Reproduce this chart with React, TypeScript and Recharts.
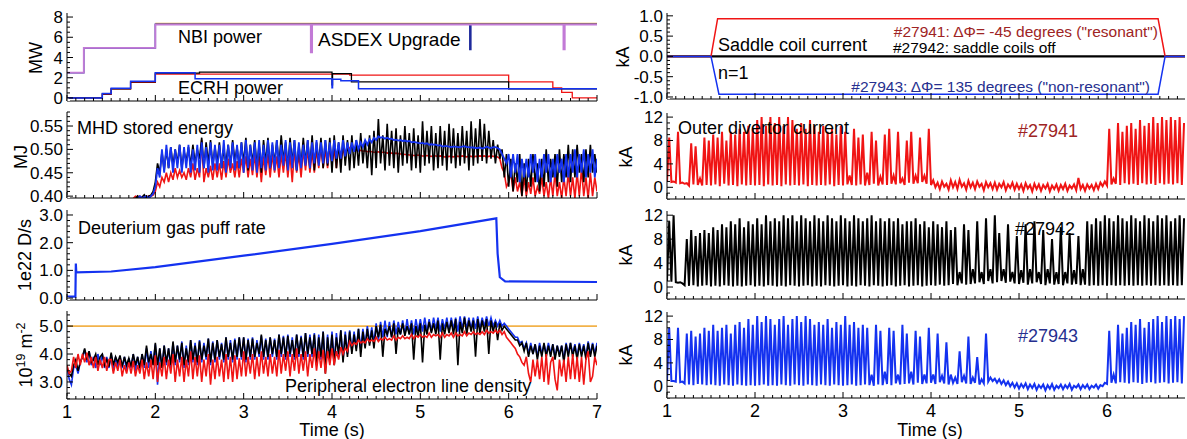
import React from 'react';
import { LineChart, Line, XAxis, YAxis, ReferenceLine } from 'recharts';

const FONT = '"Liberation Sans", Arial, Helvetica, sans-serif';
const RED = '#f01414';
const BLUE = '#1432f0';
const BLACK = '#000000';
const PURPLE = '#c27ad6';
const ORANGE = '#f2b24a';
const NAVYLINE = '#1e2a9c';
const DARKRED = '#9e2424';
const TEXTNAVY = '#262f8f';

// ---------- Panel 1: heating power (MW), step traces ----------
const nbiT = [1.0, 1.19, 2.0, 3.76, 3.775, 6.62, 6.635, 7.0];
const nbiV = [2.5, 4.95, 7.25, 4.5, 7.25, 4.8, 7.25, 7.25];
const nbiBlueT = [1.0, 1.19, 2.0, 5.56, 5.572, 7.0];
const nbiBlueV = [2.5, 4.95, 7.3, 4.8, 7.3, 7.3];
const nbiOrangeT = [2.0, 7.0];
const nbiOrangeV = [7.35, 7.35];
const ecrhRedT = [1.0, 1.4, 1.5, 1.72, 2.0, 4.2, 6.0, 6.5, 6.6, 6.72, 7.0];
const ecrhRedV = [0, 0.35, 0.9, 1.55, 2.35, 2.25, 1.6, 1.0, 0.55, 0, 0];
const ecrhBlackT = [1.0, 1.4, 1.5, 1.72, 2.0, 2.5, 4.0, 4.006, 4.22, 6.0, 7.0];
const ecrhBlackV = [0, 0.4, 0.9, 1.6, 2.45, 2.55, 1.3, 2.4, 1.6, 0.9, 0.9];
const ecrhBlueT = [1.0, 1.4, 1.5, 1.72, 2.0, 2.45, 4.0, 4.006, 4.1, 4.3, 7.0];
const ecrhBlueV = [0, 0.45, 0.95, 1.65, 2.5, 1.9, 1.0, 1.85, 1.7, 0.9, 0.9];

// ---------- Panel 2: MHD stored energy (MJ), t = 1.700 .. 7.000 step 0.025 ----------
const MHD_T0 = 1.7;
const MHD_DT = 0.025;
const mhdBlack = [
  0.385, 0.39, 0.388, 0.395, 0.40, 0.392, 0.398, 0.403, 0.395, 0.40, 0.402, 0.41, 0.43, 0.47, 0.45, 0.495, 0.455, 0.50, 0.46, 0.505,
  0.465, 0.50, 0.47, 0.51, 0.46, 0.495, 0.475, 0.505, 0.465, 0.51, 0.47, 0.50, 0.48, 0.525, 0.46, 0.515, 0.47, 0.52, 0.465, 0.505,
  0.47, 0.515, 0.46, 0.50, 0.47, 0.51, 0.465, 0.52, 0.475, 0.505, 0.46, 0.515, 0.47, 0.525, 0.455, 0.51, 0.47, 0.52, 0.465, 0.51,
  0.45, 0.52, 0.47, 0.525, 0.46, 0.51, 0.47, 0.52, 0.465, 0.53, 0.475, 0.515, 0.46, 0.525, 0.47, 0.52, 0.455, 0.51, 0.465, 0.525,
  0.47, 0.52, 0.46, 0.53, 0.455, 0.515, 0.47, 0.525, 0.46, 0.52, 0.465, 0.525, 0.45, 0.53, 0.46, 0.515, 0.45, 0.53, 0.465, 0.52,
  0.455, 0.53, 0.46, 0.52, 0.465, 0.535, 0.47, 0.52, 0.46, 0.53, 0.445, 0.54, 0.46, 0.565, 0.47, 0.53, 0.455, 0.555, 0.465, 0.54,
  0.46, 0.545, 0.45, 0.53, 0.465, 0.55, 0.47, 0.535, 0.455, 0.545, 0.46, 0.53, 0.45, 0.56, 0.465, 0.54, 0.47, 0.55, 0.455, 0.535,
  0.46, 0.55, 0.465, 0.54, 0.455, 0.555, 0.47, 0.545, 0.46, 0.535, 0.465, 0.55, 0.47, 0.54, 0.455, 0.56, 0.465, 0.545, 0.47, 0.565,
  0.475, 0.555, 0.47, 0.54, 0.48, 0.52, 0.47, 0.51, 0.48, 0.50, 0.44, 0.49, 0.42, 0.48, 0.41, 0.47, 0.43, 0.49, 0.40, 0.47,
  0.41, 0.48, 0.42, 0.49, 0.43, 0.47, 0.41, 0.48, 0.42, 0.50, 0.43, 0.48, 0.44, 0.49, 0.42, 0.50, 0.43, 0.49, 0.44, 0.51,
  0.43, 0.50, 0.44, 0.51, 0.45, 0.49, 0.43, 0.50, 0.44, 0.51, 0.45, 0.49, 0.45,
];
const mhdBlue = [
  0.385, 0.388, 0.39, 0.392, 0.395, 0.40, 0.396, 0.398, 0.40, 0.395, 0.40, 0.405, 0.42, 0.46, 0.44, 0.50, 0.45, 0.51, 0.46, 0.505,
  0.45, 0.50, 0.46, 0.51, 0.45, 0.505, 0.46, 0.51, 0.45, 0.50, 0.455, 0.51, 0.45, 0.515, 0.46, 0.505, 0.45, 0.515, 0.455, 0.51,
  0.455, 0.51, 0.46, 0.52, 0.45, 0.51, 0.46, 0.515, 0.455, 0.51, 0.46, 0.515, 0.45, 0.52, 0.46, 0.51, 0.455, 0.515, 0.45, 0.52,
  0.46, 0.51, 0.455, 0.52, 0.46, 0.515, 0.455, 0.52, 0.46, 0.51, 0.465, 0.52, 0.455, 0.515, 0.46, 0.52, 0.455, 0.515, 0.46, 0.51,
  0.465, 0.52, 0.46, 0.515, 0.47, 0.52, 0.465, 0.515, 0.47, 0.52, 0.47, 0.515, 0.475, 0.52, 0.48, 0.515, 0.48, 0.52, 0.485, 0.515,
  0.49, 0.515, 0.495, 0.52, 0.50, 0.515, 0.505, 0.52, 0.51, 0.522, 0.515, 0.525, 0.52, 0.528, 0.525, 0.526, 0.523, 0.525, 0.522, 0.523,
  0.52, 0.521, 0.519, 0.52, 0.518, 0.519, 0.517, 0.518, 0.515, 0.516, 0.515, 0.514, 0.513, 0.514, 0.512, 0.513, 0.51, 0.511, 0.51, 0.51,
  0.508, 0.509, 0.506, 0.507, 0.507, 0.506, 0.505, 0.506, 0.506, 0.505, 0.505, 0.506, 0.507, 0.505, 0.505, 0.504, 0.504, 0.503, 0.503, 0.504,
  0.502, 0.503, 0.506, 0.504, 0.503, 0.505, 0.505, 0.503, 0.50, 0.49, 0.48, 0.47, 0.49, 0.44, 0.49, 0.45, 0.49, 0.43, 0.48, 0.44,
  0.48, 0.44, 0.49, 0.45, 0.49, 0.43, 0.48, 0.44, 0.49, 0.45, 0.49, 0.43, 0.48, 0.44, 0.49, 0.45, 0.48, 0.43, 0.49, 0.44,
  0.49, 0.45, 0.50, 0.44, 0.49, 0.45, 0.50, 0.44, 0.49, 0.45, 0.50, 0.44, 0.48,
];
const mhdRed = [
  0.39, 0.393, 0.395, 0.40, 0.398, 0.40, 0.395, 0.40, 0.398, 0.40, 0.40, 0.402, 0.41, 0.43, 0.42, 0.44, 0.43, 0.45, 0.43, 0.45,
  0.435, 0.46, 0.44, 0.455, 0.44, 0.45, 0.435, 0.46, 0.44, 0.47, 0.435, 0.46, 0.44, 0.52, 0.43, 0.46, 0.44, 0.465, 0.435, 0.47,
  0.44, 0.47, 0.435, 0.475, 0.44, 0.48, 0.45, 0.47, 0.44, 0.475, 0.44, 0.48, 0.45, 0.485, 0.44, 0.48, 0.445, 0.49, 0.44, 0.485,
  0.43, 0.485, 0.445, 0.49, 0.44, 0.49, 0.45, 0.485, 0.44, 0.49, 0.45, 0.495, 0.44, 0.49, 0.43, 0.50, 0.45, 0.49, 0.44, 0.50,
  0.455, 0.50, 0.45, 0.495, 0.45, 0.50, 0.46, 0.505, 0.46, 0.50, 0.46, 0.505, 0.47, 0.50, 0.46, 0.51, 0.47, 0.505, 0.48, 0.51,
  0.50, 0.51, 0.50, 0.498, 0.497, 0.498, 0.496, 0.497, 0.495, 0.496, 0.495, 0.494, 0.494, 0.495, 0.493, 0.494, 0.494, 0.492, 0.493, 0.492,
  0.491, 0.492, 0.491, 0.49, 0.49, 0.489, 0.489, 0.488, 0.488, 0.487, 0.487, 0.488, 0.487, 0.486, 0.486, 0.487, 0.486, 0.485, 0.487, 0.486,
  0.485, 0.486, 0.485, 0.484, 0.484, 0.485, 0.485, 0.484, 0.486, 0.485, 0.485, 0.486, 0.485, 0.484, 0.486, 0.485, 0.484, 0.485, 0.485, 0.486,
  0.485, 0.486, 0.484, 0.485, 0.486, 0.485, 0.485, 0.484, 0.48, 0.46, 0.45, 0.42, 0.43, 0.45, 0.41, 0.44, 0.41, 0.43, 0.40, 0.44,
  0.40, 0.43, 0.405, 0.44, 0.40, 0.42, 0.405, 0.44, 0.40, 0.43, 0.395, 0.44, 0.40, 0.45, 0.40, 0.43, 0.395, 0.44, 0.40, 0.45,
  0.40, 0.44, 0.395, 0.45, 0.40, 0.46, 0.40, 0.44, 0.395, 0.45, 0.40, 0.44, 0.41,
];

// ---------- Panel 3: deuterium gas puff rate (1e22 D/s) ----------
const gasT = [1.0, 1.095, 1.1, 1.105, 1.5, 2.0, 3.0, 4.0, 5.0, 5.86, 5.875, 5.9, 5.96, 7.0];
const gasV = [0.05, 0.05, 1.25, 0.93, 0.96, 1.12, 1.53, 1.96, 2.42, 2.88, 1.6, 0.75, 0.6, 0.58];

// ---------- Panel 4: peripheral line density (1e19 m^-2), t = 1.000 .. 7.000 step 0.025 ----------
const DEN_T0 = 1.0;
const DEN_DT = 0.025;
const denBlue = [
  3.5, 3.1, 2.9, 3.5, 3.6, 3.3, 3.7, 3.9, 4.15, 3.7, 4.1, 3.6, 3.9, 3.5, 4.0, 3.6, 4.0, 3.5, 3.9, 3.5,
  4.0, 3.4, 3.9, 3.5, 3.9, 3.5, 3.9, 3.4, 3.85, 3.5, 4.0, 3.4, 3.9, 3.4, 4.0, 3.5, 4.2, 3.5, 4.1, 3.6,
  4.35, 2.9, 4.2, 3.5, 4.3, 3.6, 4.2, 3.5, 4.4, 3.6, 4.3, 3.7, 4.45, 3.5, 4.3, 3.6, 4.5, 3.7, 4.4, 3.6,
  4.5, 3.7, 4.4, 3.8, 4.55, 3.6, 4.45, 3.7, 4.5, 3.8, 4.4, 3.7, 4.6, 3.8, 4.5, 3.7, 4.55, 3.8, 4.6, 3.8,
  4.6, 3.7, 4.55, 3.8, 4.6, 3.8, 4.5, 3.9, 4.65, 3.8, 4.55, 3.8, 4.6, 3.9, 4.55, 3.8, 4.7, 3.9, 4.65, 3.8,
  4.7, 3.9, 4.6, 3.8, 4.7, 3.9, 4.65, 3.8, 4.75, 3.9, 4.7, 3.9, 4.75, 3.7, 4.7, 3.8, 4.8, 3.5, 4.7, 3.7,
  4.8, 3.7, 4.75, 3.9, 4.85, 3.8, 4.8, 4.0, 4.85, 4.1, 4.8, 4.2, 4.9, 4.2, 4.9, 4.3, 5.0, 4.4, 4.95, 4.4,
  5.1, 4.5, 5.15, 4.6, 5.2, 4.6, 5.15, 4.6, 5.2, 4.7, 5.15, 4.7, 5.2, 4.7, 5.25, 4.7, 5.2, 4.7, 5.25, 4.8,
  5.25, 4.8, 5.3, 4.8, 5.25, 4.8, 5.3, 4.9, 5.3, 4.8, 5.25, 4.9, 5.3, 4.8, 5.3, 4.9, 5.3, 4.8, 5.35, 4.9,
  5.35, 4.9, 5.3, 4.9, 5.3, 4.9, 5.35, 4.9, 5.3, 5.0, 5.35, 5.0, 5.3, 5.0, 5.2, 5.0, 5.2, 5.0, 5.1, 5.0,
  4.9, 4.8, 4.7, 4.6, 4.6, 4.4, 4.45, 4.2, 4.4, 4.0, 4.4, 4.0, 4.35, 3.9, 4.4, 4.0, 4.35, 4.0, 4.4, 4.0,
  4.35, 3.9, 4.3, 4.0, 4.3, 3.8, 4.4, 4.0, 4.4, 4.0, 4.35, 3.9, 4.4, 4.0, 4.35, 3.9, 4.45, 4.0, 4.4, 4.0,
  4.4,
];
const denBlack = [
  3.5, 3.3, 3.2, 3.6, 3.8, 3.4, 3.7, 3.9, 4.2, 3.8, 4.1, 3.7, 3.8, 4.0, 3.6, 3.9, 4.0, 3.6, 3.8, 3.55,
  4.05, 3.6, 3.9, 3.7, 3.95, 3.55, 3.9, 3.6, 3.85, 3.55, 4.0, 3.6, 3.9, 3.5, 4.0, 3.6, 4.3, 3.7, 4.0, 3.6,
  4.4, 3.6, 4.2, 3.5, 4.3, 3.7, 4.2, 3.6, 4.45, 3.7, 4.3, 3.8, 4.4, 3.6, 4.2, 3.7, 4.5, 3.8, 4.3, 3.7,
  4.45, 3.8, 4.3, 3.9, 4.55, 3.7, 4.4, 3.8, 4.5, 3.9, 4.35, 3.8, 4.6, 3.9, 4.4, 3.8, 4.5, 3.9, 4.6, 3.9,
  4.6, 3.8, 4.5, 3.9, 4.55, 3.9, 4.4, 4.0, 4.7, 3.9, 4.5, 3.9, 4.6, 4.0, 4.5, 3.9, 4.7, 4.0, 4.6, 3.9,
  4.65, 4.0, 4.5, 3.9, 4.7, 4.0, 4.6, 3.9, 4.75, 4.0, 4.6, 4.0, 4.7, 3.6, 4.6, 3.9, 4.8, 3.3, 4.6, 3.8,
  4.7, 3.6, 4.6, 4.0, 4.85, 3.7, 4.7, 3.9, 4.8, 4.0, 4.7, 4.1, 4.9, 3.9, 4.8, 4.2, 4.9, 4.3, 4.85, 4.2,
  5.0, 4.6, 5.05, 3.9, 4.9, 4.7, 5.0, 4.6, 5.1, 4.0, 4.95, 4.7, 5.1, 4.65, 5.0, 4.7, 5.1, 3.8, 5.0, 4.65,
  5.1, 3.7, 5.05, 4.7, 5.15, 4.75, 5.1, 4.7, 5.2, 3.8, 5.1, 4.7, 5.15, 4.75, 5.2, 4.7, 5.25, 3.6, 5.15, 4.75,
  5.3, 4.7, 5.2, 4.8, 5.2, 3.9, 5.25, 4.75, 5.2, 4.8, 5.25, 4.0, 5.2, 4.8, 5.15, 4.5, 5.1, 4.85, 5.0, 4.9,
  4.8, 4.7, 4.6, 4.5, 4.5, 4.3, 4.4, 4.1, 4.4, 3.9, 4.3, 4.0, 4.35, 3.8, 4.3, 3.9, 4.4, 3.9, 4.3, 3.9,
  4.35, 3.8, 4.3, 3.9, 4.3, 3.7, 4.35, 3.9, 4.4, 3.9, 4.3, 3.8, 4.35, 3.9, 4.3, 3.8, 4.4, 3.9, 4.35, 3.9,
  4.3,
];
const denRed = [
  3.6, 3.3, 3.4, 3.9, 3.5, 4.0, 3.6, 4.0, 3.7, 4.05, 3.6, 3.9, 3.5, 3.9, 3.4, 3.8, 3.5, 3.9, 3.4, 3.8,
  3.8, 3.3, 3.7, 3.4, 3.8, 3.2, 3.6, 3.3, 3.7, 3.3, 3.75, 3.2, 3.6, 3.3, 3.8, 3.1, 3.7, 3.2, 3.8, 3.1,
  3.95, 3.0, 3.7, 3.2, 3.9, 3.1, 3.8, 3.3, 4.0, 3.0, 3.8, 3.2, 3.9, 3.0, 3.8, 3.2, 4.1, 3.1, 3.9, 3.2,
  3.95, 3.0, 3.8, 3.2, 4.0, 2.9, 3.8, 3.1, 3.9, 3.2, 3.8, 3.0, 4.0, 3.1, 3.9, 3.0, 3.95, 3.1, 3.85, 3.2,
  4.1, 3.2, 3.9, 3.3, 4.0, 3.1, 3.9, 3.2, 4.1, 3.3, 3.9, 3.2, 4.0, 3.3, 3.9, 3.2, 4.15, 3.3, 4.0, 3.4,
  4.1, 3.2, 4.0, 3.4, 4.2, 3.3, 4.0, 3.4, 4.1, 3.2, 4.0, 3.5, 4.2, 3.4, 4.1, 3.5, 4.15, 3.3, 4.1, 3.6,
  4.2, 3.6, 4.1, 3.8, 4.25, 4.0, 4.2, 4.1, 4.45, 4.3, 4.4, 4.35, 4.5, 4.4, 4.45, 4.4, 4.55, 4.45, 4.5, 4.45,
  4.6, 4.45, 4.55, 4.5, 4.6, 4.5, 4.55, 4.5, 4.65, 4.5, 4.6, 4.55, 4.65, 4.55, 4.6, 4.55, 4.7, 4.55, 4.65, 4.6,
  4.7, 4.6, 4.65, 4.6, 4.75, 4.6, 4.7, 4.65, 4.7, 4.6, 4.75, 4.6, 4.7, 4.65, 4.75, 4.6, 4.75, 4.65, 4.7, 4.65,
  4.8, 4.65, 4.75, 4.7, 4.8, 4.7, 4.75, 4.7, 4.8, 4.7, 4.85, 4.75, 4.8, 4.75, 4.85, 4.75, 4.85, 4.7, 4.8, 4.6,
  4.5, 4.4, 4.3, 4.2, 4.0, 3.9, 3.7, 3.6, 3.9, 3.3, 3.0, 3.8, 3.2, 3.8, 3.1, 3.9, 3.0, 4.0, 2.9, 3.7,
  3.9, 3.1, 2.7, 3.8, 3.2, 3.8, 3.0, 3.9, 3.1, 4.0, 3.1, 3.9, 3.0, 3.9, 2.9, 3.8, 4.1, 3.0, 3.2, 3.9,
  3.6,
];
const densityTarget = 5.0;

// ---------- Panel R1: saddle coil current (kA) ----------
const saddleRedT = [1.0, 1.5, 1.575, 6.58, 6.66, 6.886];
const saddleRedV = [0, 0, 0.93, 0.93, 0, 0];
const saddleBlueT = [1.0, 1.5, 1.59, 6.58, 6.66, 6.886];
const saddleBlueV = [0, 0, -0.93, -0.93, 0, 0];
const saddleBlackT = [1.0, 6.886];
const saddleBlackV = [0, 0];

// ---------- Panels R2-R4: outer divertor current (kA), t = 1.000 .. 6.875 step 0.025 ----------
const DIV_T0 = 1.0;
const DIV_DT = 0.025;
const div27941 = [
  0.9, 8.5, 0.9, 1.0, 0.8, 9.5, 0.7, 0.8, 0.6, 0.7,
  0.3, 7.5, 0.5, 7.0, 0.4, 1.5, 0.3, 8.5, 0.4, 8.0,
  0.3, 9.0, 0.5, 8.5, 0.2, 9.5, 0.6, 8.0, 0.3, 9.5,
  0.4, 9.0, 0.2, 10.0, 0.5, 9.5, 0.3, 10.5, 0.4, 10.0,
  0.3, 11.5, 0.4, 12.0, 0.2, 10.5, 0.5, 12.0, 0.3, 11.0,
  0.4, 12.0, 0.2, 10.5, 0.5, 12.0, 0.3, 11.5, 0.4, 10.0,
  0.3, 11.0, 0.5, 10.0, 0.2, 11.5, 0.4, 10.5, 0.3, 9.5,
  0.4, 10.5, 0.3, 9.5, 0.5, 10.0, 0.2, 9.0, 0.4, 10.5,
  0.3, 9.5, 0.5, 2.0, 0.4, 10.0, 0.3, 8.5, 0.5, 9.0,
  0.3, 2.5, 0.4, 9.5, 0.6, 8.0, 0.3, 1.8, 0.5, 9.0,
  0.4, 10.0, 0.6, 2.0, 0.5, 9.5, 0.7, 1.5, 0.4, 8.0,
  0.8, 9.5, 0.6, 2.0, 0.7, 8.5, 0.9, 2.0, 0.6, 10.0,
  0.4, 1.2, 0.0, 0.8, -0.3, 1.0, 0.1, 0.6, -0.4, 1.2,
  0.0, 0.9, -0.3, 1.3, 0.1, 0.7, -0.4, 1.1, 0.0, 0.8,
  -0.3, 1.0, 0.1, 0.6, -0.5, 0.9, 0.0, 0.7, -0.3, 0.8,
  -0.4, 0.6, 0.0, 0.9, -0.5, 0.5, -0.1, 0.8, -0.4, 0.6,
  -0.3, 0.5, -0.6, 0.7, -0.2, 0.4, -0.7, 0.6, -0.3, 0.5,
  -0.6, 0.4, -0.2, 0.6, -0.7, 0.3, -0.3, 0.5, -0.6, 0.4,
  -0.3, 0.6, -0.6, 0.3, -0.2, 0.5, -0.5, 1.6, -0.3, 0.4,
  -0.6, 0.5, -0.2, 0.4, -0.5, 0.6, -0.3, 0.8, 0.2, 1.0,
  0.3, 10.0, 0.5, 1.5, 0.6, 11.0, 0.4, 9.5, 0.7, 10.5,
  0.5, 11.0, 0.6, 10.0, 0.4, 11.5, 0.7, 10.5, 0.5, 11.0,
  0.6, 12.0, 0.4, 11.0, 0.7, 12.0, 0.5, 11.5, 0.6, 12.0,
  0.5, 11.5, 0.7, 12.0, 0.4, 11.0,
];
const div27942 = [
  1.0, 11.0, 0.9, 12.0, 0.8, 0.7, 0.8, 0.6, 0.3, 8.0,
  0.2, 9.5, 0.3, 8.5, 0.1, 9.0, 0.2, 9.5, 0.3, 9.0,
  0.1, 10.0, 0.2, 9.5, 0.1, 10.5, 0.3, 10.0, 0.2, 11.0,
  0.1, 10.5, 0.2, 11.5, 0.1, 10.0, 0.2, 11.0, 0.3, 10.5,
  0.1, 11.5, 0.2, 10.5, 0.1, 12.0, 0.3, 11.0, 0.2, 11.5,
  0.1, 11.0, 0.2, 12.0, 0.1, 11.5, 0.3, 12.0, 0.2, 11.0,
  0.1, 12.0, 0.2, 11.5, 0.3, 11.0, 0.1, 12.0, 0.2, 11.5,
  0.1, 11.0, 0.3, 12.0, 0.2, 11.5, 0.1, 11.0, 0.2, 12.0,
  0.3, 11.5, 0.1, 11.0, 0.2, 12.0, 0.1, 11.5, 0.3, 11.0,
  0.2, 11.5, 0.1, 12.0, 0.3, 11.0, 0.2, 11.5, 0.1, 11.0,
  0.2, 11.5, 0.3, 11.0, 0.1, 11.5, 0.2, 10.5, 0.3, 11.0,
  0.1, 11.0, 0.2, 11.5, 0.3, 10.5, 0.1, 11.0, 0.2, 10.0,
  0.3, 11.0, 0.2, 10.5, 0.4, 10.0, 0.2, 11.0, 0.3, 9.5,
  0.5, 10.0, 0.3, 2.5, 0.6, 10.5, 0.4, 9.5, 0.5, 3.0,
  0.6, 11.0, 0.8, 2.5, 0.5, 11.5, 1.0, 3.0, 0.6, 12.0,
  0.8, 9.0, 1.0, 3.0, 0.7, 10.5, 0.9, 2.5, 0.6, 8.5,
  0.5, 2.8, 0.7, 10.5, 0.4, 3.0, 0.6, 11.0, 0.8, 2.5,
  0.5, 9.5, 0.3, 3.0, 0.6, 8.0, 0.4, 2.5, 0.5, 10.0,
  0.3, 2.5, 0.6, 9.0, 0.4, 2.8, 0.5, 8.5, 0.3, 3.0,
  0.4, 11.0, 0.2, 10.5, 0.3, 11.5, 0.2, 11.0, 0.3, 12.0,
  0.2, 11.5, 0.3, 11.0, 0.2, 12.0, 0.3, 11.5, 0.2, 11.0,
  0.3, 12.0, 0.2, 11.5, 0.3, 11.0, 0.2, 12.0, 0.3, 11.5,
  0.2, 11.0, 0.3, 12.0, 0.2, 11.5, 0.3, 12.0, 0.2, 11.0,
  0.3, 11.5, 0.2, 12.0, 0.3, 11.5,
];
const div27943 = [
  1.0, 10.0, 0.9, 0.9, 0.8, 10.0, 0.7, 0.8, 0.5, 9.0,
  0.3, 9.5, 0.2, 8.5, 0.4, 9.0, 0.3, 10.0, 0.2, 9.5,
  0.3, 10.5, 0.2, 9.5, 0.1, 10.0, 0.3, 10.5, 0.2, 9.0,
  0.1, 10.5, 0.3, 11.0, 0.2, 10.0, 0.1, 11.5, 0.2, 10.5,
  0.1, 12.0, 0.2, 11.0, 0.3, 12.0, 0.1, 11.5, 0.2, 10.5,
  0.1, 11.5, 0.3, 12.0, 0.2, 10.5, 0.1, 11.5, 0.3, 12.0,
  0.2, 11.0, 0.1, 12.0, 0.3, 11.5, 0.2, 10.5, 0.1, 11.0,
  0.3, 10.5, 0.2, 11.5, 0.1, 10.0, 0.3, 11.0, 0.2, 10.5,
  0.1, 12.0, 0.2, 10.5, 0.3, 11.0, 0.1, 10.0, 0.2, 10.5,
  0.3, 10.0, 0.2, 2.0, 0.1, 10.5, 0.3, 9.5, 0.2, 2.5,
  0.4, 10.0, 0.2, 9.5, 0.5, 2.0, 0.3, 10.5, 0.4, 9.0,
  0.5, 2.5, 0.3, 9.5, 0.6, 8.5, 0.4, 2.0, 0.5, 10.0,
  0.6, 2.0, 0.4, 9.0, 0.7, 1.8, 0.5, 7.5, 0.3, 2.0,
  0.6, 1.5, 0.4, 6.0, 0.7, 1.8, 0.5, 8.5, 0.4, 1.5,
  0.6, 5.0, 0.3, 1.2, 0.5, 9.0, 0.8, 1.5, 0.9, 1.3,
  0.6, 1.2, 0.4, 1.0, 0.2, 0.8, 0.0, 0.6, -0.2, 0.5,
  -0.4, 0.4, -0.2, 0.5, -0.5, 0.3, -0.3, 0.4, -0.6, 0.2,
  -0.3, 0.3, -0.7, 0.2, -0.4, 0.4, -0.6, 0.1, -0.3, 0.3,
  -0.5, 0.2, -0.3, 0.4, -0.6, 0.1, -0.2, 0.3, -0.5, 0.2,
  -0.3, 0.3, -0.5, 0.1, -0.2, 0.3, -0.4, 0.2, 0.0, 0.6,
  0.4, 9.5, 0.6, 2.0, 0.5, 10.5, 0.7, 9.0, 0.6, 10.0,
  0.5, 11.0, 0.7, 10.5, 0.6, 11.5, 0.4, 10.0, 0.6, 11.0,
  0.7, 11.5, 0.5, 12.0, 0.6, 11.0, 0.7, 12.0, 0.5, 11.5,
  0.6, 12.0, 0.7, 11.5, 0.5, 12.0,
];

// ---------- axis tick labels ----------
const xMajorLeft = [1, 2, 3, 4, 5, 6, 7];
const xMajorRight = [1, 2, 3, 4, 5, 6];
const yMajorMW = [0, 2, 4, 6, 8];
const yLabelsMW = ['0', '2', '4', '6', '8'];
const yMajorMJ = [0.4, 0.45, 0.5, 0.55];
const yLabelsMJ = ['0.40', '0.45', '0.50', '0.55'];
const yMajorGas = [0, 1, 2, 3];
const yLabelsGas = ['0.0', '1.0', '2.0', '3.0'];
const yMajorDen = [3, 4, 5];
const yLabelsDen = ['3.0', '4.0', '5.0'];
const yMajorSaddle = [-1, -0.5, 0, 0.5, 1];
const yLabelsSaddle = ['-1.0', '-0.5', '0.0', '0.5', '1.0'];
const yMajorDiv = [0, 4, 8, 12];
const yLabelsDiv = ['0', '4', '8', '12'];

// ---------- helpers ----------
type Pt = { t: number; v: number };
const pts = (T: number[], V: number[]): Pt[] => T.map((t, i) => ({ t, v: V[i] }));
const onGrid = (t0: number, dt: number, V: number[]): Pt[] =>
  V.map((v, i) => ({ t: Math.round((t0 + i * dt) * 10000) / 10000, v }));
const tickRange = (a: number, b: number, s: number) => {
  const out: number[] = [];
  for (let k = Math.ceil(a / s - 1e-9); k * s <= b + 1e-9; k++) out.push(Math.round(k * s * 10000) / 10000);
  return out;
};
const isIn = (arr: number[], v: number) => arr.some((m) => Math.abs(m - v) < 1e-6);

type S = { data: Pt[]; color: string; w?: number; step?: boolean };
type P = {
  x: number; y: number; w: number; h: number; mr: number;
  xDomain: [number, number]; xMajor: number[]; xMinor: number; showX: boolean;
  yDomain: [number, number]; yMajor: number[]; yLabels: string[]; yMinor: number;
  series: S[]; refY?: number;
};

const TICK_FS = 17;

function Panel(p: P) {
  const top = 10;
  const bottom = p.showX ? 40 : 14;
  const W = 67 + p.w + p.mr;
  const H = top + p.h + bottom;
  const xTicks = tickRange(p.xDomain[0], p.xDomain[1], p.xMinor);
  const yTicks = tickRange(p.yDomain[0], p.yDomain[1], p.yMinor);
  const xTick = (dir: number, labels: boolean) => (props: any) => {
    const { x, y, payload } = props;
    const v = payload.value;
    const maj = isIn(p.xMajor, v);
    const len = maj ? 6 : 3;
    return (
      <g>
        <line x1={x} y1={y} x2={x} y2={y + dir * len} stroke="#000" strokeWidth={1} />
        {labels && maj ? (
          <text x={x} y={y + 19} textAnchor="middle" fontSize={TICK_FS + 1} fontFamily={FONT} fill="#000">
            {String(v)}
          </text>
        ) : null}
      </g>
    );
  };
  const yTick = (dir: number, labels: boolean) => (props: any) => {
    const { x, y, payload } = props;
    const v = payload.value;
    const idx = p.yMajor.findIndex((m) => Math.abs(m - v) < 1e-6);
    const maj = idx >= 0;
    const len = maj ? 6 : 3;
    return (
      <g>
        <line x1={x} y1={y} x2={x + dir * len} y2={y} stroke="#000" strokeWidth={1} />
        {labels && maj ? (
          <text x={x - 4} y={y + 6} textAnchor="end" fontSize={TICK_FS} fontFamily={FONT} fill="#000">
            {p.yLabels[idx]}
          </text>
        ) : null}
      </g>
    );
  };
  return (
    <div style={{ position: 'absolute', left: p.x - 67, top: p.y - top }}>
      <LineChart width={W} height={H} margin={{ top, right: p.mr, bottom: 0, left: 0 }}>
        <XAxis
          xAxisId="b" dataKey="t" type="number" domain={p.xDomain} allowDataOverflow
          ticks={xTicks} interval={0} tickLine={false} tickSize={0} tickMargin={0}
          height={bottom} axisLine={{ stroke: '#000', strokeWidth: 1 }} tick={xTick(-1, p.showX)}
        />
        <XAxis
          xAxisId="top" dataKey="t" type="number" orientation="top" domain={p.xDomain} allowDataOverflow
          ticks={xTicks} interval={0} tickLine={false} tickSize={0} tickMargin={0}
          height={0} axisLine={{ stroke: '#000', strokeWidth: 1 }} tick={xTick(1, false)}
        />
        <YAxis
          yAxisId="l" type="number" domain={p.yDomain} allowDataOverflow ticks={yTicks} interval={0}
          tickLine={false} tickSize={0} tickMargin={0} width={67}
          axisLine={{ stroke: '#000', strokeWidth: 1 }} tick={yTick(1, true)}
        />
        <YAxis
          yAxisId="r" type="number" orientation="right" domain={p.yDomain} allowDataOverflow ticks={yTicks}
          interval={0} tickLine={false} tickSize={0} tickMargin={0} width={0}
          axisLine={{ stroke: '#000', strokeWidth: 1 }} tick={yTick(-1, false)}
        />
        <Line
          xAxisId="top" yAxisId="r" data={[{ t: p.xDomain[0], v: p.yDomain[0] }]} dataKey="v"
          stroke="none" dot={false} activeDot={false} isAnimationActive={false}
        />
        {p.refY !== undefined ? (
          <ReferenceLine xAxisId="b" yAxisId="l" y={p.refY} stroke={ORANGE} strokeWidth={1.6} />
        ) : null}
        {p.series.map((s, i) => (
          <Line
            key={i} xAxisId="b" yAxisId="l" data={s.data} dataKey="v"
            type={s.step ? 'stepAfter' : 'linear'} stroke={s.color} strokeWidth={s.w ?? 1}
            dot={false} activeDot={false} isAnimationActive={false}
          />
        ))}
      </LineChart>
    </div>
  );
}

const LEFT = { x: 67, w: 530, mr: 10, xDomain: [1, 7] as [number, number], xMajor: xMajorLeft, xMinor: 0.1 };
const RIGHT = { x: 667, w: 518, mr: 2, xDomain: [1, 6.886] as [number, number], xMajor: xMajorRight, xMinor: 0.1 };

export default function App() {
  const t = (x: number, y: number, s: string, opts: any = {}) => (
    <text x={x} y={y} fontSize={opts.size ?? 18} fill={opts.color ?? '#000'} textAnchor={opts.anchor ?? 'start'} fontFamily={FONT}>
      {s}
    </text>
  );
  const ytitle = (x: number, y: number, s: string) => (
    <text x={x} y={y} transform={`rotate(-90 ${x} ${y})`} fontSize={18} textAnchor="middle" fontFamily={FONT} fill="#000">
      {s}
    </text>
  );
  return (
    <div style={{ position: 'absolute', left: 0, top: 0, width: 1187, height: 439, overflow: 'hidden', background: '#fff' }}>
      <Panel {...LEFT} y={13} h={88} showX={false}
        yDomain={[-0.3, 8.4]} yMajor={yMajorMW} yLabels={yLabelsMW} yMinor={0.5}
        series={[
          { data: pts(nbiOrangeT, nbiOrangeV), color: ORANGE, w: 1.5, step: true },
          { data: pts(nbiBlueT, nbiBlueV), color: NAVYLINE, w: 1.5, step: true },
          { data: pts(nbiT, nbiV), color: PURPLE, w: 1.8, step: true },
          { data: pts(ecrhRedT, ecrhRedV), color: RED, w: 1.3, step: true },
          { data: pts(ecrhBlackT, ecrhBlackV), color: BLACK, w: 1.3, step: true },
          { data: pts(ecrhBlueT, ecrhBlueV), color: BLUE, w: 1.5, step: true },
        ]} />
      <Panel {...LEFT} y={112} h={86} showX={false}
        yDomain={[0.396, 0.58]} yMajor={yMajorMJ} yLabels={yLabelsMJ} yMinor={0.01}
        series={[
          { data: onGrid(MHD_T0, MHD_DT, mhdRed), color: RED, w: 1.6 },
          { data: onGrid(MHD_T0, MHD_DT, mhdBlack), color: BLACK, w: 1.6 },
          { data: onGrid(MHD_T0, MHD_DT, mhdBlue), color: BLUE, w: 1.8 },
        ]} />
      <Panel {...LEFT} y={210} h={90} showX={false}
        yDomain={[-0.07, 3.18]} yMajor={yMajorGas} yLabels={yLabelsGas} yMinor={0.2}
        series={[{ data: pts(gasT, gasV), color: BLUE, w: 2.2 }]} />
      <Panel {...LEFT} y={311} h={88} showX={true}
        yDomain={[2.39, 5.54]} yMajor={yMajorDen} yLabels={yLabelsDen} yMinor={0.2} refY={densityTarget}
        series={[
          { data: onGrid(DEN_T0, DEN_DT, denBlue), color: BLUE, w: 1.6 },
          { data: onGrid(DEN_T0, DEN_DT, denBlack), color: BLACK, w: 1.6 },
          { data: onGrid(DEN_T0, DEN_DT, denRed), color: RED, w: 1.6 },
        ]} />

      <Panel {...RIGHT} y={13} h={86} showX={false}
        yDomain={[-1.05, 1.07]} yMajor={yMajorSaddle} yLabels={yLabelsSaddle} yMinor={0.1}
        series={[
          { data: pts(saddleBlackT, saddleBlackV), color: BLACK, w: 2.2 },
          { data: pts(saddleRedT, saddleRedV), color: RED, w: 1.5 },
          { data: pts(saddleBlueT, saddleBlueV), color: BLUE, w: 1.5 },
        ]} />
      <Panel {...RIGHT} y={113} h={86} showX={false}
        yDomain={[-2.0, 12.7]} yMajor={yMajorDiv} yLabels={yLabelsDiv} yMinor={1}
        series={[{ data: onGrid(DIV_T0, DIV_DT, div27941), color: RED, w: 2 }]} />
      <Panel {...RIGHT} y={211} h={88} showX={false}
        yDomain={[-2.0, 12.7]} yMajor={yMajorDiv} yLabels={yLabelsDiv} yMinor={1}
        series={[{ data: onGrid(DIV_T0, DIV_DT, div27942), color: BLACK, w: 2 }]} />
      <Panel {...RIGHT} y={312} h={86} showX={true}
        yDomain={[-2.0, 12.7]} yMajor={yMajorDiv} yLabels={yLabelsDiv} yMinor={1}
        series={[{ data: onGrid(DIV_T0, DIV_DT, div27943), color: BLUE, w: 2 }]} />

      <svg width={1187} height={439} style={{ position: 'absolute', left: 0, top: 0, pointerEvents: 'none' }}>
        {t(178, 43, 'NBI power')}
        {t(318, 46, 'ASDEX Upgrade', { size: 19 })}
        {t(178, 94, 'ECRH power')}
        {t(77, 134, 'MHD stored energy')}
        {t(78, 234, 'Deuterium gas puff rate')}
        {t(285, 392, 'Peripheral electron line density')}
        {t(332, 436, 'Time (s)', { anchor: 'middle' })}
        {ytitle(42, 58, 'MW')}
        {ytitle(27, 157, 'MJ')}
        {ytitle(31, 255, '1e22 D/s')}
        <text x={32} y={355} transform="rotate(-90 32 355)" fontSize={18} textAnchor="middle" fontFamily={FONT} fill="#000">
          10<tspan dy={-7} fontSize={12.5}>19</tspan><tspan dy={7}> m</tspan><tspan dy={-7} fontSize={12.5}>-2</tspan>
        </text>

        {t(1158, 37, '#27941: \u0394\u03A6= -45 degrees ("resonant")', { size: 15.5, color: DARKRED, anchor: 'end' })}
        {t(718, 51, 'Saddle coil current')}
        {t(893, 53, '#27942: saddle coils off', { size: 15.5 })}
        {t(718, 79, 'n=1')}
        {t(1150, 92, '#27943: \u0394\u03A6= 135 degrees ("non-resonant")', { size: 15.5, color: TEXTNAVY, anchor: 'end' })}
        {t(678, 134, 'Outer divertor current')}
        {t(1018, 137, '#27941', { color: DARKRED })}
        {t(1015, 235, '#27942')}
        {t(1018, 342, '#27943', { color: TEXTNAVY })}
        {t(930, 436, 'Time (s)', { anchor: 'middle' })}
        {ytitle(629, 57, 'kA')}
        {ytitle(632, 157, 'kA')}
        {ytitle(632, 255, 'kA')}
        {ytitle(632, 355, 'kA')}
      </svg>
    </div>
  );
}
